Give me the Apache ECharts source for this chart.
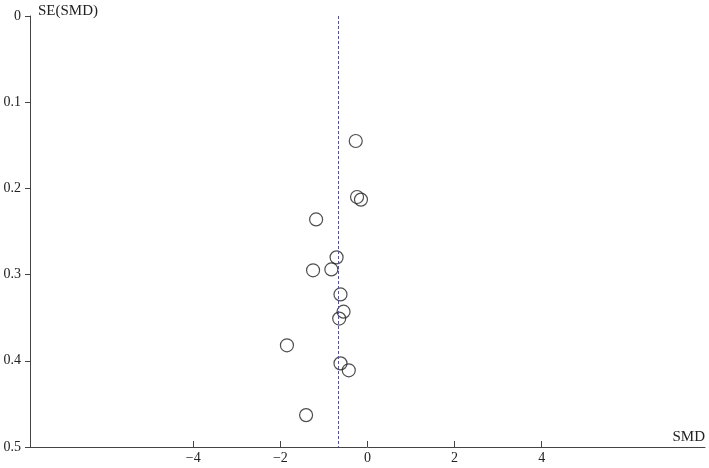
<!DOCTYPE html>
<html>
<head>
<meta charset="utf-8">
<script src="https://cdn.jsdelivr.net/npm/echarts@6/dist/echarts.min.js"></script>
<style>
  html, body { margin: 0; padding: 0; background: #fff; }
  #chart { width: 709px; height: 468px; }
</style>
</head>
<body>
<div id="chart"></div>
<script>
// study effect sizes and their standard errors
const smd = [-0.27, -0.24, -0.15, -1.18, -0.71, -1.25, -0.83, -0.62, -0.55, -0.65, -1.85, -0.62, -0.43, -1.41]
const se = [0.145, 0.210, 0.213, 0.236, 0.280, 0.295, 0.294, 0.323, 0.343, 0.351, 0.382, 0.403, 0.411, 0.463]
const pooled = -0.68
const xTicks = [-4, -2, 0, 2, 4]

const chart = echarts.init(document.getElementById('chart'))
const font = 'Liberation Serif'

const points = smd.map((v, i) => [v, se[i]])

const option = {
  animation: false,
  grid: { left: 30, right: 4, top: 16, bottom: 21 },
  xAxis: {
    type: 'value',
    min: -7.75,
    max: 7.75,
    name: 'SMD',
    nameLocation: 'end',
    nameGap: 0,
    nameTextStyle: { fontFamily: font, fontSize: 15, color: '#222', align: 'right', verticalAlign: 'bottom', padding: [0, 0, 2, 0] },
    axisLine: { onZero: false, lineStyle: { color: '#444', width: 1 } },
    axisTick: { inside: true, length: 6, lineStyle: { color: '#444' }, customValues: xTicks },
    axisLabel: {
      fontFamily: font, fontSize: 14, color: '#222', margin: 4,
      customValues: xTicks,
      formatter: v => (v < 0 ? '\u2212' + Math.abs(v) : String(v))
    },
    splitLine: { show: false }
  },
  yAxis: {
    type: 'value',
    inverse: true,
    min: 0,
    max: 0.5,
    interval: 0.1,
    name: 'SE(SMD)',
    nameLocation: 'start',
    nameGap: 4,
    nameTextStyle: { fontFamily: font, fontSize: 15, color: '#222', align: 'left', verticalAlign: 'bottom', padding: [0, 0, -7, 8] },
    axisLine: { onZero: false, lineStyle: { color: '#444', width: 1 } },
    axisTick: { length: 5, lineStyle: { color: '#444' } },
    axisLabel: {
      fontFamily: font, fontSize: 14, color: '#222', margin: 9,
      formatter: v => (v === 0 ? '0' : v.toFixed(1))
    },
    splitLine: { show: false }
  },
  series: [
    {
      type: 'scatter',
      data: points,
      symbol: 'circle',
      symbolSize: 13,
      itemStyle: { color: 'rgba(255,255,255,0)', borderColor: '#222', borderWidth: 1.2 },
      markLine: {
        silent: true,
        symbol: 'none',
        label: { show: false },
        lineStyle: { color: '#4a4ad8', type: [3, 2], width: 1 },
        data: [{ xAxis: pooled }]
      }
    }
  ]
}
chart.setOption(option)
</script>
</body>
</html>
